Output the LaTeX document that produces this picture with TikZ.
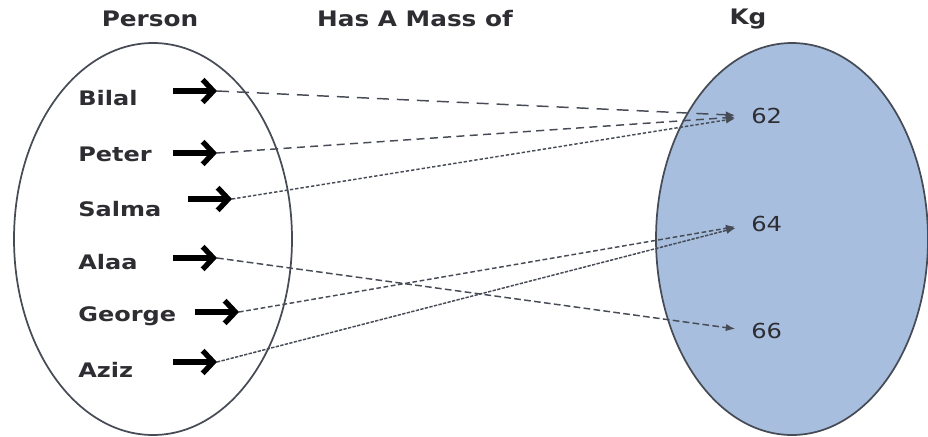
\documentclass[tikz,border=0pt]{standalone}
\usepackage{fontspec}
\setmainfont{DejaVu Sans}
\usetikzlibrary{arrows.meta}
\definecolor{kgblue}{RGB}{167,190,222}
\definecolor{ink}{RGB}{45,45,50}
\definecolor{rim}{RGB}{70,75,85}
\tikzset{fatarrow/.style={line width=4pt,-{Straight Barb[length=8pt,width=17pt]}}}
\newcommand{\fat}[3]{\coordinate (#1s) at (#2,#3);
	\coordinate (#1e) at (#2+44,#3);
	\draw[fatarrow] (#1s) -- (#1e)}
\newcommand{\who}[3]{\node[who] (#1) at (78,#2) {#3}}
\newcommand{\maps}[3]{\draw[link,#3] (#1) -- (#2)}

\begin{document}
\begin{tikzpicture}[x=0.75pt,y=-0.75pt,
	who/.style={anchor=west,inner sep=0,xscale=1.2,transform shape,font=\bfseries\fontsize{15}{17}\selectfont,text=ink},
	kg/.style={anchor=west,inner sep=0,xscale=1.17,transform shape,font=\fontsize{15.5}{17}\selectfont,text=ink},
	head/.style={xscale=1.16,transform shape,font=\bfseries\fontsize{16}{18}\selectfont,text=ink},
	link/.style={rim,line width=1.1pt,shorten >=12pt,-{Latex[length=7pt,width=5.5pt]}}]
\useasboundingbox (0,0) rectangle (928,436);
%
	\node[head] (person) at (150,19) {Person};
	\node[head] (mass) at (415,19) {Has A Mass of};
	\node[head] (kgt) at (748,19) {Kg};
%
	\draw[rim,line width=1.3pt,fill=white] (153,239) ellipse [x radius=139, y radius=196];
	\draw[rim,line width=1.3pt,fill=kgblue] (792,239) ellipse [x radius=136, y radius=196];
%
	\who{bilal}{98}{Bilal};
	\who{peter}{154}{Peter};
	\who{salma}{209}{Salma};
	\who{alaa}{262}{Alaa};
	\who{george}{316}{George};
	\who{aziz}{370}{Aziz};
%
	\fat{b}{173}{91};
	\fat{p}{173}{153};
	\fat{s}{188}{199};
	\fat{a}{173}{258};
	\fat{g}{195}{312};
	\fat{z}{173}{362};
%
	\node[kg] (k62) at (751,116) {62};
	\node[kg] (k64) at (751,224) {64};
	\node[kg] (k66) at (751,331) {66};
%
	\maps{be}{k62.west}{dash pattern=on 9pt off 6pt};
	\maps{pe}{k62.west}{dash pattern=on 6pt off 4pt};
	\maps{se}{k62.west}{dash pattern=on 2.5pt off 1.5pt};
	\maps{ae}{k66.west}{dash pattern=on 5pt off 2.5pt};
	\maps{ge}{k64.west}{dash pattern=on 3.5pt off 2pt};
	\maps{ze}{k64.west}{dash pattern=on 2.5pt off 1pt};
%
\end{tikzpicture}
\end{document}
